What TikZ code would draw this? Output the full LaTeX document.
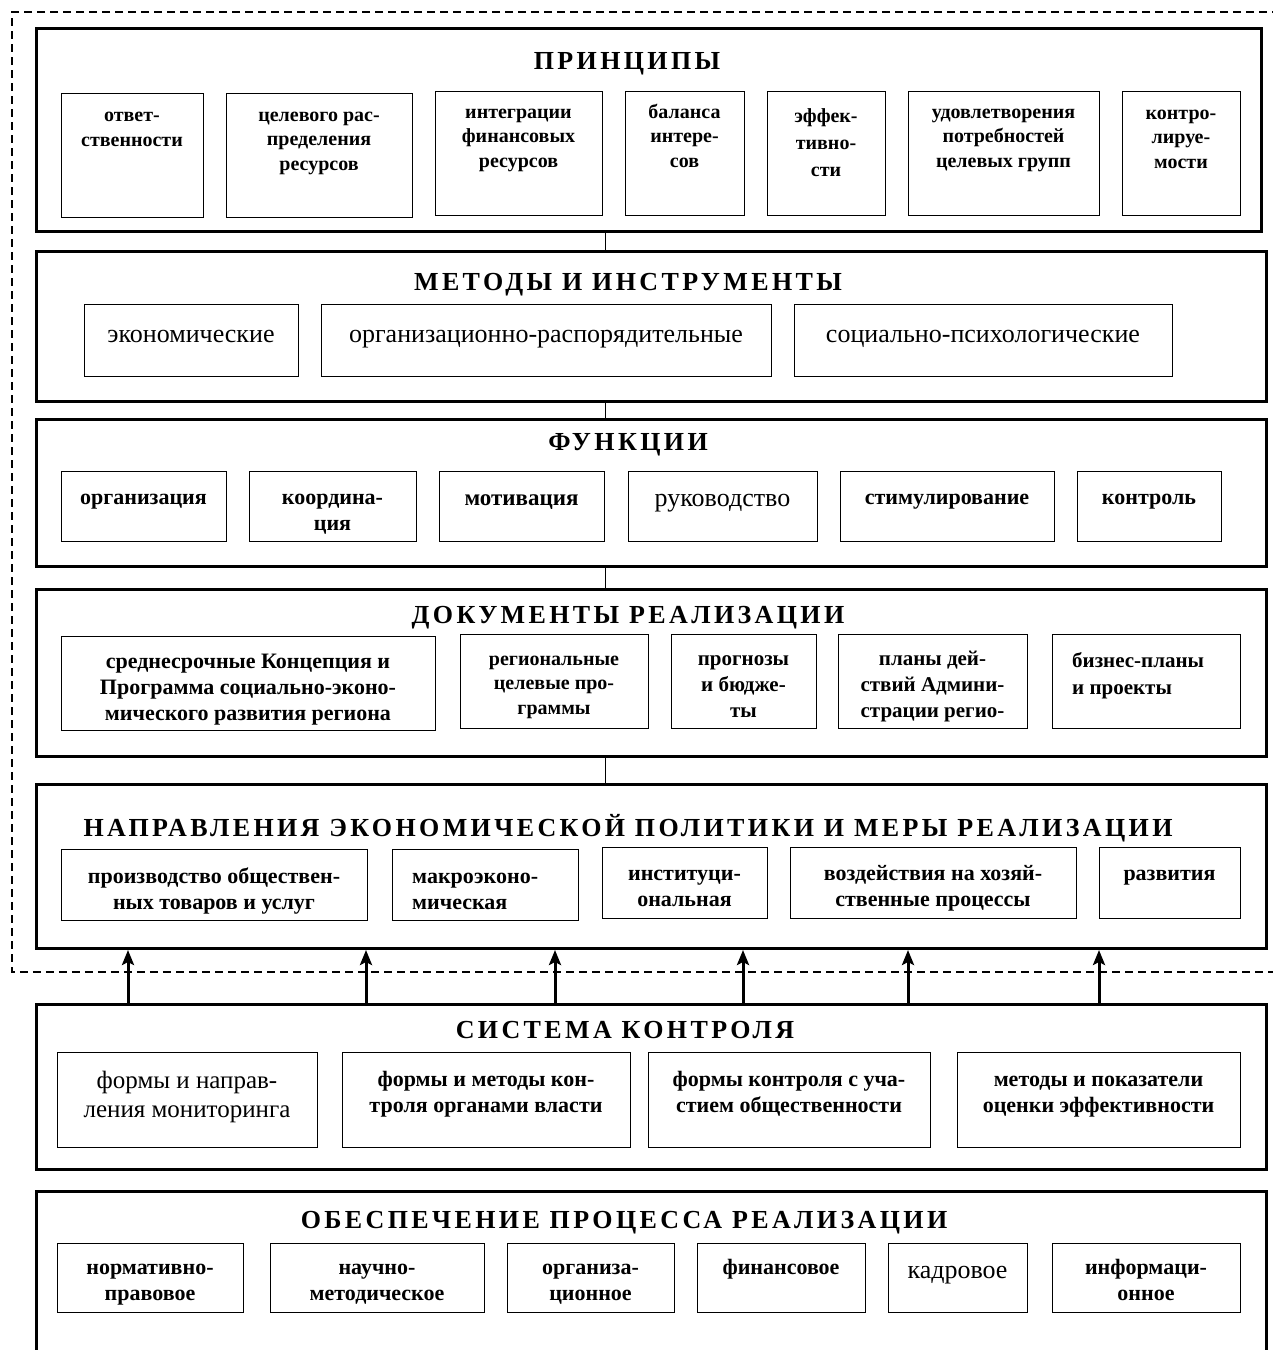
\documentclass[tikz,border=0pt]{standalone}
\usepackage{fontspec}
\setmainfont{Liberation Serif}
\usetikzlibrary{arrows.meta}
\tikzset{
  sec/.style={draw, line width=3pt, inner sep=0pt},
  subb/.style={draw, line width=1.4pt, inner sep=0pt},
  subt/.style={font=\bfseries\fontsize{22}{26}\selectfont, align=center, inner sep=0pt},
  pr/.style={font=\bfseries\fontsize{20}{24.5}\selectfont},
  rg/.style={font=\fontsize{26}{30}\selectfont},
  ttl/.style={font=\bfseries\fontsize{26}{30}\selectfont\addfontfeature{LetterSpace=13}, inner sep=0pt, anchor=base},
  conn/.style={line width=1pt},
  arr/.style={line width=3pt, -{Stealth[length=15pt,width=12pt,inset=3pt]}},
  dashframe/.style={line width=1.3pt, dash pattern=on 8pt off 5pt}
}
% #6 = baseline of the LAST line of the text
\newcommand\secbox[5]{\node[sec, anchor=north west, minimum width={(#4-#2)*1pt}, minimum height={(#5-#3)*1pt}] (#1) at (#2,#3) {};}
\newcommand\sbx[8]{%
  \node[subb, anchor=north west, minimum width={(#4-#2)*1pt}, minimum height={(#5-#3)*1pt}] (#1) at (#2,#3) {};
  \node[subt, anchor=base, #7] (#1-t) at ({(#2+#4)/2},#6) {#8};}
\begin{document}
\begin{tikzpicture}[x=1pt,y=-1pt]
\useasboundingbox (0,0) rectangle (1273,1350);
\clip (0,0) rectangle (1273,1350);
% dashed frame
\coordinate (fr1) at (1280,12);
\coordinate (fr2) at (12,12);
\coordinate (fr3) at (12,972);
\coordinate (fr4) at (1280,972);
\draw[dashframe] (fr1) -- (fr2) -- (fr3) -- (fr4);
% sections
\secbox{prin}{35}{27}{1260}{230}
\secbox{meth}{35}{250}{1265}{400}
\secbox{func}{35}{418}{1265}{565}
\secbox{docs}{35}{588}{1265}{755}
\secbox{dirs}{35}{783}{1265}{947}
\secbox{ctrl}{35}{1003}{1265}{1168}
\secbox{prov}{35}{1190}{1265}{1380}
% titles
\node[ttl] (prin-h) at (627,69) {ПРИНЦИПЫ};
\node[ttl] (meth-h) at (628,290) {МЕТОДЫ И ИНСТРУМЕНТЫ};
\node[ttl] (func-h) at (628,450) {ФУНКЦИИ};
\node[ttl] (docs-h) at (628,623) {ДОКУМЕНТЫ РЕАЛИЗАЦИИ};
\node[ttl] (dirs-h) at (628,836) {НАПРАВЛЕНИЯ ЭКОНОМИЧЕСКОЙ ПОЛИТИКИ И МЕРЫ РЕАЛИЗАЦИИ};
\node[ttl] (ctrl-h) at (625,1038) {СИСТЕМА КОНТРОЛЯ};
\node[ttl] (prov-h) at (624,1228) {ОБЕСПЕЧЕНИЕ ПРОЦЕССА РЕАЛИЗАЦИИ};
% principles
\sbx{p1}{61}{93}{203}{217}{146}{pr}{ответ-\\ственности}
\sbx{p2}{226}{93}{412}{217}{170}{pr}{целевого рас-\\пределения\\ресурсов}
\sbx{p3}{435}{91}{602}{215}{167}{pr}{интеграции\\финансовых\\ресурсов}
\sbx{p4}{625}{91}{744}{215}{167}{pr}{баланса\\интере-\\сов}
\sbx{p5}{767}{91}{885}{215}{176}{pr, font=\bfseries\fontsize{20}{27}\selectfont}{эффек-\\тивно-\\сти}
\sbx{p6}{908}{91}{1099}{215}{167}{pr}{удовлетворения\\потребностей\\целевых групп}
\sbx{p7}{1122}{91}{1240}{215}{168}{pr}{контро-\\лируе-\\мости}
% methods
\sbx{m1}{84}{304}{298}{376}{342}{rg}{экономические}
\sbx{m2}{321}{304}{771}{376}{342}{rg}{организационно-распорядительные}
\sbx{m3}{794}{304}{1172}{376}{342}{rg}{социально-психологические}
% functions
\sbx{f1}{61}{471}{226}{541}{504}{}{организация}
\sbx{f2}{249}{471}{416}{541}{530}{}{координа-\\ция}
\sbx{f3}{439}{471}{604}{541}{505}{font=\bfseries\fontsize{23}{27}\selectfont}{мотивация}
\sbx{f4}{628}{471}{817}{541}{506}{rg}{руководство}
\sbx{f5}{840}{471}{1054}{541}{504}{}{стимулирование}
\sbx{f6}{1077}{471}{1221}{541}{504}{}{контроль}
% documents
\sbx{d1}{61}{636}{435}{730}{720}{}{среднесрочные Концепция и\\Программа социально-эконо-\\мического развития региона}
\sbx{d2}{460}{634}{648}{728}{714}{font=\bfseries\fontsize{20}{24.5}\selectfont}{региональные\\целевые про-\\граммы}
\sbx{d3}{671}{634}{816}{728}{717}{font=\bfseries\fontsize{21}{26}\selectfont}{прогнозы\\и бюдже-\\ты}
\sbx{d4}{838}{634}{1027}{728}{717}{font=\bfseries\fontsize{21}{26}\selectfont}{планы дей-\\ствий Админи-\\страции регио-}
\node[subb, anchor=north west, minimum width=188pt, minimum height=94pt] (d5) at (1052,634) {};
\node[subt, align=left, anchor=base west, font=\bfseries\fontsize{21}{27}\selectfont] (d5-t) at (1072,694) {бизнес-планы\\и проекты};
% directions
\sbx{n1}{61}{849}{367}{920}{909}{}{производство обществен-\\ных товаров и услуг}
\node[subb, anchor=north west, minimum width=186pt, minimum height=71pt] (n2) at (392,849) {};
\node[subt, align=left, anchor=base west] (n2-t) at (412,909) {макроэконо-\\мическая};
\sbx{n3}{602}{847}{767}{918}{906}{}{институци-\\ональная}
\sbx{n4}{790}{847}{1076}{918}{906}{}{воздействия на хозяй-\\ственные процессы}
\sbx{n5}{1099}{847}{1240}{918}{880}{}{развития}
% control
\sbx{c1}{57}{1052}{317}{1147}{1117}{font=\fontsize{25}{29}\selectfont}{формы и направ-\\ления мониторинга}
\sbx{c2}{342}{1052}{630}{1147}{1112}{}{формы и методы кон-\\троля органами власти}
\sbx{c3}{648}{1052}{930}{1147}{1112}{}{формы контроля с уча-\\стием общественности}
\sbx{c4}{957}{1052}{1240}{1147}{1112}{}{методы и показатели\\оценки эффективности}
% provision
\sbx{o1}{57}{1243}{243}{1312}{1300}{}{нормативно-\\правовое}
\sbx{o2}{270}{1243}{484}{1312}{1300}{}{научно-\\методическое}
\sbx{o3}{507}{1243}{674}{1312}{1300}{}{организа-\\ционное}
\sbx{o4}{697}{1243}{865}{1312}{1274}{}{финансовое}
\sbx{o5}{888}{1243}{1027}{1312}{1278}{rg}{кадровое}
\sbx{o6}{1052}{1243}{1240}{1312}{1300}{}{информаци-\\онное}
% connectors
\coordinate (ax) at (605,0);
\draw[conn] (prin.south -| ax) -- (meth.north -| ax);
\draw[conn] (meth.south -| ax) -- (func.north -| ax);
\draw[conn] (func.south -| ax) -- (docs.north -| ax);
\draw[conn] (docs.south -| ax) -- (dirs.north -| ax);
% arrows
\foreach \i/\xx in {1/128,2/366,3/555,4/743,5/908,6/1099}{
  \coordinate (a\i) at (\xx,0);
  \draw[arr] (ctrl.north -| a\i) -- (dirs.south -| a\i);
}
\end{tikzpicture}
\end{document}
